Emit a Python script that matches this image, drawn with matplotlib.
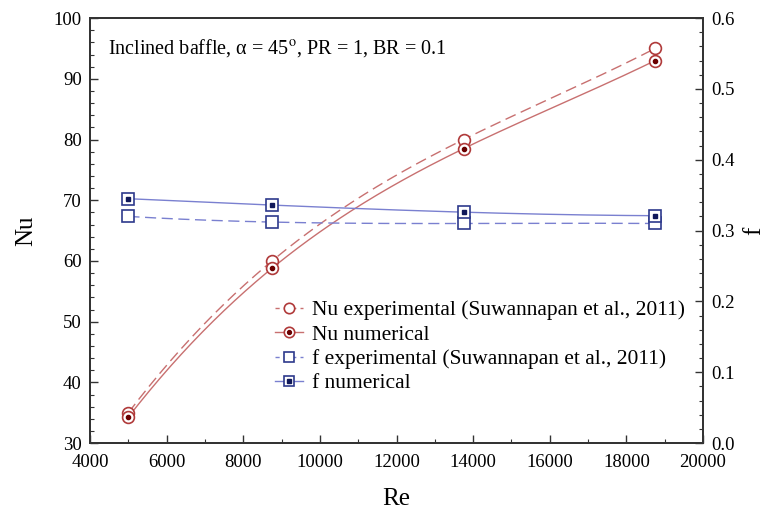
import numpy as np
import matplotlib
matplotlib.use("Agg")
import matplotlib.pyplot as plt
from matplotlib.ticker import MultipleLocator

plt.rcParams['font.family'] = ['Liberation Serif', 'DejaVu Serif']
plt.rcParams['mathtext.fontset'] = 'stix'

# data
re = [5000, 8750, 13750, 18750]
nu_exp = [35.0, 60.0, 80.0, 95.0]
nu_num = [34.3, 58.8, 78.5, 93.0]
f_exp = [0.320, 0.312, 0.310, 0.310]
f_num = [0.345, 0.336, 0.326, 0.321]

red = '#b03a3a'
red_line = '#c87070'
blue = '#2e3a8c'
blue_line = '#7a80d0'

fig = plt.figure(figsize=(7.7, 5.17), dpi=100)
ax = fig.add_axes([0.117, 0.143, 0.796, 0.822])
ax2 = ax.twinx()

# smooth curve through the 4 points (cubic passes exactly through them)
xs = np.linspace(re[0], re[-1], 200)

def smooth(y):
    c = np.polyfit(re, y, 3)
    return np.polyval(c, xs)

ax.plot(xs, smooth(nu_exp), color=red_line, lw=1.0, ls=(0, (8, 4)))
ax.plot(xs, smooth(nu_num), color=red_line, lw=1.0)
ax2.plot(xs, smooth(f_exp), color=blue_line, lw=1.0, ls=(0, (8, 4)))
ax2.plot(xs, smooth(f_num), color=blue_line, lw=1.0)

ms = 8.5
ax.plot(re, nu_exp, 'o', ms=ms, mfc='white', mec=red, mew=1.2, zorder=3)
ax.plot(re, nu_num, 'o', ms=ms, mfc='white', mec=red, mew=1.2, zorder=4)
ax.plot(re, nu_num, 'o', ms=3, mfc='#6a0000', mec='#6a0000', zorder=5)
ax2.plot(re, f_exp, 's', ms=ms, mfc='white', mec=blue, mew=1.2, zorder=3)
ax2.plot(re, f_num, 's', ms=ms, mfc='white', mec=blue, mew=1.2, zorder=4)
ax2.plot(re, f_num, 's', ms=3, mfc='#10185a', mec='#10185a', zorder=5)

# legend handles
lms = 7.5
h1 = plt.Line2D([], [], color=red_line, lw=1.0, ls=(0, (3, 3)), marker='o', ms=lms,
                mfc='white', mec=red, mew=1.2)
h2a = plt.Line2D([], [], color=red_line, lw=1.0, marker='o', ms=lms,
                 mfc='white', mec=red, mew=1.2)
h2b = plt.Line2D([], [], ls='none', marker='o', ms=2.8, mfc='#6a0000', mec='#6a0000')
h3 = plt.Line2D([], [], color=blue_line, lw=1.0, ls=(0, (3, 3)), marker='s', ms=lms,
                mfc='white', mec=blue, mew=1.2)
h4a = plt.Line2D([], [], color=blue_line, lw=1.0, marker='s', ms=lms,
                 mfc='white', mec=blue, mew=1.2)
h4b = plt.Line2D([], [], ls='none', marker='s', ms=2.8, mfc='#10185a', mec='#10185a')

ax2.legend([h1, (h2a, h2b), h3, (h4a, h4b)],
           ['Nu experimental (Suwannapan et al., 2011)', 'Nu numerical',
            'f experimental (Suwannapan et al., 2011)', 'f numerical'],
           loc='upper left', bbox_to_anchor=(0.302, 0.336), frameon=False,
           borderpad=0, borderaxespad=0,
           fontsize=15.5, handlelength=1.3, labelspacing=0.2, handletextpad=0.4)

ax.text(0.03, 0.93, 'Inclined baffle, α = 45$^{\\mathrm{o}}$, PR = 1, BR = 0.1',
        transform=ax.transAxes, fontsize=14.5, va='center')

ax.set_xlim(4000, 20000)
ax.set_ylim(30, 100)
ax2.set_ylim(0.0, 0.6)

ax.xaxis.set_major_locator(MultipleLocator(2000))
ax.xaxis.set_minor_locator(MultipleLocator(1000))
ax.yaxis.set_major_locator(MultipleLocator(10))
ax.yaxis.set_minor_locator(MultipleLocator(2))
ax2.yaxis.set_major_locator(MultipleLocator(0.1))
ax2.yaxis.set_minor_locator(MultipleLocator(0.02))
ax2.yaxis.set_major_formatter(plt.FormatStrFormatter('%.1f'))

for a in (ax, ax2):
    a.tick_params(which='both', direction='in', labelsize=13.5, color='#333333')
    a.tick_params(which='major', length=6, width=1.0)
    a.tick_params(which='minor', length=3, width=0.8)
    for s in a.spines.values():
        s.set_color('#333333')
        s.set_linewidth(1.3)
ax.tick_params(axis='x', pad=8)
ax.tick_params(axis='y', pad=6)
ax2.tick_params(axis='y', pad=6)

ax.set_xlabel('Re', fontsize=18, labelpad=12)
ax.set_ylabel('Nu', fontsize=18, labelpad=12)
ax2.set_ylabel('f', fontsize=18, labelpad=6)

fig.savefig('out.png', dpi=100)
